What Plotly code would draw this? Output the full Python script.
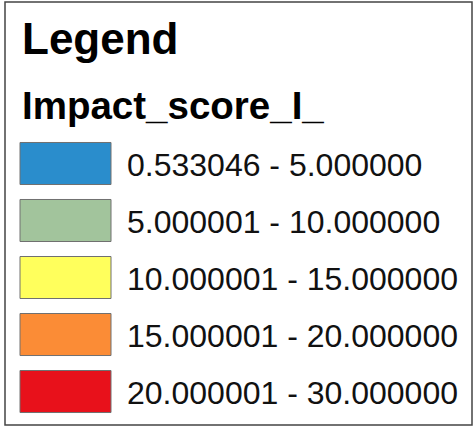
import plotly.graph_objects as go

title = "Legend"
field = "Impact_score_I_"
labels = ["0.533046 - 5.000000", "5.000001 - 10.000000", "10.000001 - 15.000000",
          "15.000001 - 20.000000", "20.000001 - 30.000000"]
colors = ["#2a8dcc", "#a2c49c", "#ffff5c", "#fb8c36", "#e8111b"]
rows = list(range(len(labels)))

W, H = 476, 428
FONT = "Liberation Sans, Arial"
TEXT_DROP = 0.085  # baseline offset of label text within a row (row units)

fig = go.Figure()
fig.add_trace(go.Bar(
    orientation="h", y=rows, x=[91] * len(rows), base=[20] * len(rows),
    width=0.737, marker=dict(color=colors, line=dict(color="#707070", width=1)),
    hoverinfo="skip", showlegend=False))
fig.add_trace(go.Scatter(
    x=[127] * len(rows), y=[r + TEXT_DROP for r in rows], mode="text", text=labels,
    textposition="middle right",
    textfont=dict(family=FONT, size=32, color="#111111"),
    hoverinfo="skip", showlegend=False))

fig.update_layout(
    width=W, height=H, margin=dict(l=0, r=0, t=0, b=0),
    paper_bgcolor="white", plot_bgcolor="white",
    xaxis=dict(range=[0, W], visible=False, fixedrange=True),
    yaxis=dict(range=[4.640, -2.868], visible=False, fixedrange=True),
    shapes=[dict(type="rect", xref="paper", yref="paper",
                 x0=5 / W, x1=472 / W, y0=1 - 425 / H, y1=1 - 2 / H,
                 line=dict(color="#444444", width=1.5))],
    annotations=[
        dict(text="<b>" + title + "</b>", xref="paper", yref="paper", x=20 / W, y=1 - 39 / H,
             xanchor="left", yanchor="middle", showarrow=False,
             font=dict(family=FONT, size=44, color="black")),
        dict(text="<b>" + field + "</b>", xref="paper", yref="paper", x=20 / W, y=1 - 106 / H,
             xanchor="left", yanchor="middle", showarrow=False,
             font=dict(family=FONT, size=38.5, color="black")),
    ],
)
fig.write_html("out.html", config={"displayModeBar": False})
with open("out.html", encoding="utf-8") as f:
    html = f.read()
html = html.replace("<head>", "<head><style>html,body{margin:0;padding:0;overflow:hidden}</style>", 1)
with open("out.html", "w", encoding="utf-8") as f:
    f.write(html)
